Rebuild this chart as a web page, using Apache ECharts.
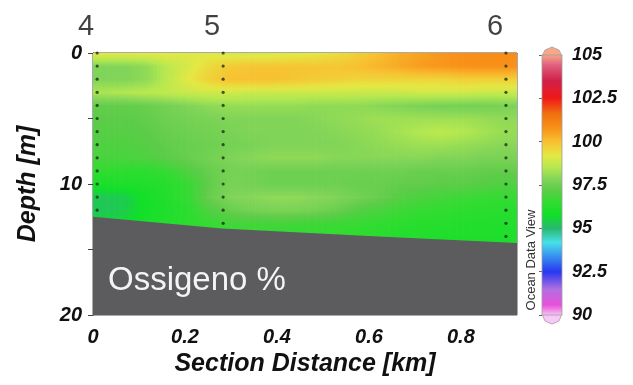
<!DOCTYPE html>
<html><head><meta charset="utf-8">
<script src="https://cdn.jsdelivr.net/npm/echarts@6/dist/echarts.min.js"></script>
<style>html,body{margin:0;padding:0;background:#fff}#c{width:633px;height:385px}</style>
</head><body><div id="c"></div>
<script>
// ---- data ----
const distances = [0.023,0.069,0.115,0.161,0.207,0.253,0.299,0.345,0.391,0.437,0.483,0.529,0.575,0.621,0.667,0.713,0.759,0.805,0.851,0.897];
const depths = [0,1,2,3,4,5,6,7,8,9,10,11,12,13,14,15];
const oxygen = [
 [99.2,99.2,99.2,99.2,99.1,99.1,99.0,99.0,99.0,99.1,99.2,99.4,99.7,100.0,100.3,100.5,100.7,100.8,100.9,100.9],
 [97.8,97.8,98.0,98.6,99.0,99.5,99.8,99.9,99.9,99.9,99.9,99.9,100.0,100.2,100.4,100.6,100.7,100.8,100.8,100.8],
 [97.8,97.8,98.0,98.6,99.2,99.7,100.0,100.0,100.0,99.9,99.8,99.7,99.6,99.6,99.6,99.6,99.6,99.7,99.7,99.7],
 [98.4,98.5,98.6,98.7,98.8,98.9,98.9,98.8,98.8,98.8,98.8,98.8,98.8,98.8,98.8,98.9,98.9,98.9,98.8,98.8],
 [97.3,97.3,97.4,97.6,97.8,98.0,98.1,98.1,98.1,98.1,98.0,98.0,98.0,97.9,97.8,97.7,97.6,97.6,97.6,97.7],
 [97.2,97.2,97.3,97.5,97.6,97.7,97.8,97.8,97.8,97.8,97.9,98.0,98.1,98.2,98.2,98.2,98.2,98.2,98.1,98.0],
 [97.1,97.1,97.2,97.4,97.5,97.6,97.7,97.8,97.8,97.8,97.8,97.9,98.0,98.1,98.3,98.5,98.6,98.5,98.3,98.1],
 [97.0,97.0,97.1,97.3,97.4,97.5,97.6,97.7,97.8,97.8,97.8,97.8,97.9,98.0,98.1,98.2,98.2,98.1,98.0,97.9],
 [96.9,96.9,97.0,97.2,97.4,97.6,97.8,97.9,98.0,98.0,98.0,97.9,97.9,97.9,97.9,97.9,97.8,97.8,97.7,97.7],
 [96.5,96.4,96.4,96.6,97.0,97.4,97.6,97.6,97.5,97.5,97.5,97.5,97.5,97.5,97.5,97.4,97.4,97.4,97.3,97.3],
 [96.0,96.1,96.2,96.3,96.6,97.3,97.7,97.6,97.5,97.5,97.5,97.5,97.4,97.4,97.3,97.3,97.2,97.2,97.1,97.0],
 [95.3,95.4,95.9,96.2,96.6,97.4,97.8,97.9,98.0,98.0,97.9,97.8,97.6,97.4,97.1,96.9,96.8,96.7,96.6,96.6],
 [95.3,95.4,95.9,96.1,96.4,97.0,97.4,97.6,97.7,97.7,97.6,97.4,97.1,96.9,96.7,96.6,96.5,96.4,96.4,96.3],
 [95.6,95.7,96.0,96.2,96.4,96.6,96.8,96.8,96.8,96.8,96.7,96.7,96.6,96.5,96.4,96.3,96.3,96.2,96.2,96.2],
 [95.8,95.9,96.1,96.2,96.3,96.4,96.5,96.5,96.5,96.5,96.5,96.5,96.4,96.3,96.2,96.2,96.1,96.1,96.1,96.1],
 [95.8,95.9,96.1,96.2,96.3,96.4,96.5,96.5,96.5,96.5,96.5,96.5,96.4,96.3,96.2,96.2,96.1,96.1,96.1,96.1]
];
const bathyDist = [0, 0.28, 0.62, 0.922];
const bathyDepth = [12.5, 13.4, 14.0, 14.5];
const stationNames = ['4', '5', '6'];
const stationDist = [0.009, 0.283, 0.898];
const stationMaxDepth = [12, 13, 14];
const cbarTicks = [90, 92.5, 95, 97.5, 100, 102.5, 105];
const cmapValues = [90, 90.6, 91.5, 92.5, 93.4, 94.2, 95, 95.8, 96.5, 97.2, 97.8, 98.5, 99.2, 100, 100.8, 101.6, 102.5, 103.5, 104.4, 105];
const cmapColors = ['#f8c8f8','#e850d8','#b070e0','#2838f0','#3890f0','#48e0e8','#28b870','#10e028','#30dc30','#5ccc48','#80d458','#b4e850','#e4e844','#f8c030','#f89018','#f07010','#f01818','#d02048','#e06080','#f8a888'];
const X_MAX = 0.922, D_MAX = 20;

// ---- colour helpers ----
const rgbStops = cmapColors.map(h => [parseInt(h.substr(1,2),16), parseInt(h.substr(3,2),16), parseInt(h.substr(5,2),16)]);
function colorOf(v) {
  if (v <= cmapValues[0]) return cmapColors[0];
  const n = cmapValues.length;
  if (v >= cmapValues[n-1]) return cmapColors[n-1];
  let k = 0;
  while (v > cmapValues[k+1]) k++;
  const t = (v - cmapValues[k]) / (cmapValues[k+1] - cmapValues[k]);
  const a = rgbStops[k], b = rgbStops[k+1];
  return 'rgb(' + [0,1,2].map(i => Math.round(a[i] + (b[i]-a[i])*t)).join(',') + ')';
}
const lerp = (a, b, t) => a + (b - a) * t;

// field cells
const cells = [];
const NC = distances.length;
for (let i = -1; i < NC; i++) for (let j = 0; j < depths.length - 1; j++) cells.push([i + 1, j]);

const FONT = 'Liberation Sans, Arial, sans-serif';

const stationDots = [];
stationDist.forEach((d, s) => { for (let z = 0; z <= stationMaxDepth[s]; z++) stationDots.push([d, z]); });

const chart = echarts.init(document.getElementById('c'), null, {renderer: 'canvas'});
chart.setOption({
  animation: false,
  backgroundColor: '#fff',
  grid: [
    {left: 93, top: 53, width: 424, height: 262, show: true, borderColor: '#555', borderWidth: 1, backgroundColor: 'transparent'},
    {left: 542, top: 55, width: 20, height: 260, show: false}
  ],
  xAxis: [
    {type: 'value', gridIndex: 0, min: 0, max: X_MAX, interval: 0.1,
     name: 'Section Distance [km]', nameLocation: 'middle', nameGap: 30,
     nameTextStyle: {fontFamily: FONT, fontSize: 25, fontWeight: 'bold', fontStyle: 'italic', color: '#111'},
     axisLine: {show: true, lineStyle: {color: '#444', width: 1}},
     axisTick: {show: true, length: 5, lineStyle: {color: '#444'}},
     splitLine: {show: false},
     axisLabel: {margin: 12, fontFamily: FONT, fontSize: 20, fontWeight: 'bold', fontStyle: 'italic', color: '#111',
       showMaxLabel: false,
       formatter: v => { const r = Math.round(v * 10); if (Math.abs(v * 10 - r) > 1e-6 || r % 2) return ''; return r === 0 ? '0' : (r / 10).toFixed(1); }}},
    {type: 'value', gridIndex: 1, min: 0, max: 1, show: false}
  ],
  yAxis: [
    {type: 'value', gridIndex: 0, min: 0, max: D_MAX, interval: 5, inverse: true,
     name: 'Depth [m]', nameLocation: 'middle', nameGap: 52, nameRotate: 90,
     nameTextStyle: {fontFamily: FONT, fontSize: 25, fontWeight: 'bold', fontStyle: 'italic', color: '#111'},
     axisLine: {show: true, lineStyle: {color: '#444', width: 1}},
     axisTick: {show: true, length: 5, lineStyle: {color: '#444'}},
     splitLine: {show: false},
     axisLabel: {margin: 11, fontFamily: FONT, fontSize: 20, fontWeight: 'bold', fontStyle: 'italic', color: '#111',
       formatter: v => (v % 10 === 0 ? String(v) : '')}},
    {type: 'value', gridIndex: 1, min: 90, max: 105, interval: 2.5, position: 'right',
     axisLine: {show: false}, splitLine: {show: false},
     axisTick: {show: true, inside: true, length: 3, lineStyle: {color: '#666'}},
     axisLabel: {margin: 10, fontFamily: FONT, fontSize: 18, fontWeight: 'bold', fontStyle: 'italic', color: '#111',
       formatter: v => (cbarTicks.indexOf(v) >= 0 ? String(v) : '')}}
  ],
  series: [
    {type: 'custom', xAxisIndex: 0, yAxisIndex: 0, clip: true, z: 1, silent: true,
     data: cells,
     renderItem: function (params, api) {
       const i = api.value(0) - 1, j = api.value(1);
       const x0 = i < 0 ? 0 : distances[i];
       const x1 = i + 1 >= NC ? X_MAX : distances[i + 1];
       const iL = Math.max(i, 0), iR = Math.min(i + 1, NC - 1);
       const K = 6, children = [];
       for (let k = 0; k < K; k++) {
         const ta = x0 + (x1 - x0) * k / K, tb = x0 + (x1 - x0) * (k + 1) / K;
         const t = (k + 0.5) / K;
         const vT = lerp(oxygen[j][iL], oxygen[j][iR], t);
         const vB = lerp(oxygen[j + 1][iL], oxygen[j + 1][iR], t);
         const p0 = api.coord([ta, depths[j]]), p1 = api.coord([tb, depths[j + 1]]);
         const stops = [0, 0.25, 0.5, 0.75, 1].map(o => ({offset: o, color: colorOf(lerp(vT, vB, o))}));
         children.push({type: 'rect', shape: {x: p0[0], y: p0[1], width: p1[0] - p0[0] + 0.7, height: p1[1] - p0[1] + 0.7},
           style: {fill: {type: 'linear', x: 0, y: 0, x2: 0, y2: 1, colorStops: stops}}});
       }
       return {type: 'group', children: children};
     }},
    {type: 'scatter', xAxisIndex: 0, yAxisIndex: 0, z: 3, silent: true, symbolSize: 3.2,
     itemStyle: {color: '#1d2e1a'}, data: stationDots},
    {type: 'custom', xAxisIndex: 0, yAxisIndex: 0, clip: true, z: 4, silent: true, data: [[0, 0]],
     renderItem: function (params, api) {
       const pts = bathyDist.map((d, k) => api.coord([d, bathyDepth[k]]));
       pts.push(api.coord([X_MAX, D_MAX]));
       pts.push(api.coord([0, D_MAX]));
       return {type: 'polygon', shape: {points: pts}, style: {fill: '#5c5b5e'}};
     }},
    {type: 'scatter', xAxisIndex: 0, yAxisIndex: 0, z: 5, silent: true, symbolSize: 0,
     data: stationDist.map((d, k) => [d, 0, stationNames[k]]),
     label: {show: true, position: 'top', distance: 12, offset: [-11, 0], formatter: p => p.value[2],
       fontFamily: FONT, fontSize: 29, color: '#111'}},
    {type: 'custom', xAxisIndex: 1, yAxisIndex: 1, z: 2, silent: true, data: [[0, 90]],
     renderItem: function (params, api) {
       const pt = api.coord([0, 105]), pb = api.coord([1, 90]);
       const l = pt[0], r = pb[0], top = pt[1], bot = pb[1], c = (l + r) / 2;
       const stops = cmapValues.map((v, k) => ({offset: (105 - v) / 15, color: cmapColors[k]})).reverse();
       return {type: 'group', children: [
         {type: 'polygon', shape: {points: [[l, top + 1], [l + 3, top - 5], [c, top - 8], [r - 3, top - 5], [r, top + 1]]},
          style: {fill: cmapColors[cmapColors.length - 1], stroke: '#a0a0a0', lineWidth: 0.8}},
         {type: 'polygon', shape: {points: [[l, bot - 1], [l + 3, bot + 6], [c, bot + 9], [r - 3, bot + 6], [r, bot - 1]]},
          style: {fill: cmapColors[0], stroke: '#a0a0a0', lineWidth: 0.8}},
         {type: 'rect', shape: {x: l, y: top, width: r - l, height: bot - top},
          style: {fill: {type: 'linear', x: 0, y: 0, x2: 0, y2: 1, colorStops: stops}, stroke: '#a0a0a0', lineWidth: 0.8}}
       ]};
     }}
  ],
  graphic: [
    {type: 'text', left: 108, top: 264, z: 100, silent: true,
     style: {text: 'Ossigeno %', fontFamily: FONT, fontSize: 33, fill: '#f4f4f4'}},
    {type: 'text', x: 531, y: 260, rotation: Math.PI / 2, z: 100, silent: true,
     style: {text: 'Ocean Data View', fontFamily: FONT, fontSize: 13, fill: '#333', align: 'center', verticalAlign: 'middle'}}
  ]
});
</script></body></html>
